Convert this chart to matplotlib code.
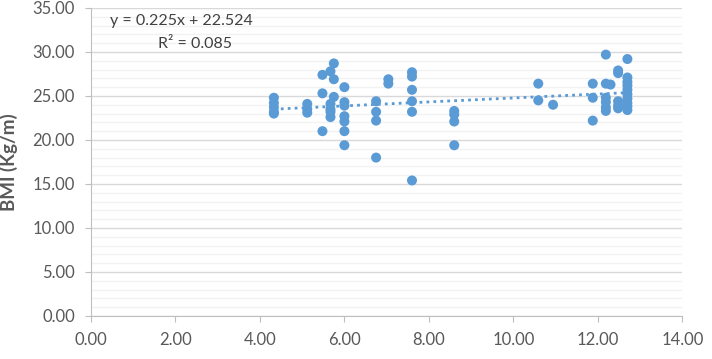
import numpy as np
import matplotlib
matplotlib.use('Agg')
from matplotlib import pyplot as plt
from matplotlib import ticker

# age (x) and BMI (y), grouped by x column
x_groups = [4.33, 5.12, 5.48, 5.67, 5.75, 6.0, 6.75, 7.04, 7.6, 8.6,
            10.59, 10.94, 11.88, 12.19, 12.3, 12.48, 12.7]
y_groups = [
    [24.8, 24.2, 23.7, 23.2, 23.0],
    [24.1, 23.5, 23.1],
    [27.4, 25.3, 21.0],
    [27.8, 24.1, 23.5, 23.2, 22.6],
    [28.7, 26.9, 24.9],
    [26.0, 24.3, 23.9, 22.7, 22.1, 21.0, 19.4],
    [24.4, 23.2, 22.2, 18.0],
    [26.9, 26.4],
    [27.7, 27.2, 25.7, 24.4, 23.2, 15.4],
    [23.3, 22.9, 22.1, 19.4],
    [26.4, 24.5],
    [24.0],
    [26.4, 24.8, 22.2],
    [29.7, 26.4, 24.8, 24.3, 23.7, 23.3],
    [26.3],
    [27.9, 27.6, 24.4, 23.9, 23.6],
    [29.2, 27.1, 26.6, 26.2, 25.7, 25.2, 24.7, 24.2, 23.8, 23.4],
]
slope, intercept, r2 = 0.225, 22.524, 0.085

xs = np.concatenate([[x] * len(ys) for x, ys in zip(x_groups, y_groups)])
ys = np.concatenate(y_groups)

blue = '#5B9BD5'
grey = '#595959'
plt.rcParams['font.family'] = ['Lato', 'DejaVu Sans']

fig = plt.figure(figsize=(7.12, 3.59), dpi=100)
ax = fig.add_axes([0.1278, 0.1198, 0.8305, 0.858])

ax.scatter(xs, ys, s=52, color=blue, edgecolors='none', zorder=3)
tx = np.array([xs.min(), xs.max()])
ax.plot(tx, slope * tx + intercept, color=blue, lw=2, ls=(0, (1, 1.5)), zorder=2)

ax.text(2.15, 33.5, 'y = %.3fx + %.3f' % (slope, intercept), ha='center', va='center',
        fontsize=11.5, color='#404040')
ax.text(2.46, 30.9, 'R² = %.3f' % r2, ha='center', va='center',
        fontsize=11.5, color='#404040')

ax.set_xlim(0, 14)
ax.set_ylim(0, 35)
ax.xaxis.set_major_locator(ticker.MultipleLocator(2))
ax.yaxis.set_major_locator(ticker.MultipleLocator(5))
ax.yaxis.set_minor_locator(ticker.MultipleLocator(1))
ax.xaxis.set_major_formatter(ticker.FormatStrFormatter('%.2f'))
ax.yaxis.set_major_formatter(ticker.FormatStrFormatter('%.2f'))

ax.grid(axis='y', which='major', color='#D9D9D9', lw=1)
ax.grid(axis='y', which='minor', color='#F2F2F2', lw=1)
ax.set_axisbelow(True)

for s in ['top', 'right']:
    ax.spines[s].set_visible(False)
for s in ['left', 'bottom']:
    ax.spines[s].set_color('#BFBFBF')
ax.tick_params(which='major', colors='#BFBFBF', labelcolor=grey, labelsize=12, length=4.5)
ax.tick_params(axis='y', which='minor', length=0)
ax.tick_params(axis='y', pad=7)
ax.tick_params(axis='x', pad=7)

ax.set_ylabel('BMI (Kg/m)', fontsize=13.5, fontweight='bold', color=grey)
ax.yaxis.set_label_coords(-0.1235, 0.5)

fig.savefig('out.png', dpi=100)
